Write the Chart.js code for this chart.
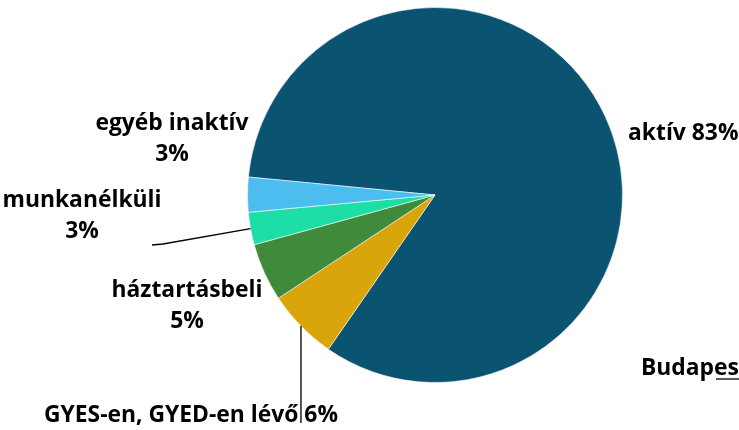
<!DOCTYPE html>
<html>
<head>
<meta charset="utf-8">
<script src="https://cdn.jsdelivr.net/npm/chart.js@4"></script>
<style>
  html, body { margin: 0; padding: 0; background: #fff; overflow: hidden; }
  #wrap { width: 739px; height: 430px; position: relative; }
</style>
</head>
<body>
<div id="wrap"><canvas id="pie"></canvas></div>
<script>
// adatok
const kategoriak = ['aktív', 'GYES-en, GYED-en lévő', 'háztartásbeli', 'munkanélküli', 'egyéb inaktív'];
const ertekek = [83.1, 6.1, 5.0, 2.8, 3.0];
const szinek = ['#0a5472', '#d9a50b', '#3f8a3b', '#1ddfa6', '#4dbdf0'];
const cimke = 'Budapest';

const CSALAD = '"Open Sans", Lato, sans-serif';

// feliratok a szeletekhez (szöveg sorok, hely)
const feliratok = [
  { sorok: [kategoriak[0] + ' ' + Math.round(ertekek[0]) + '%'], x: 628, y: 133, align: 'left' },
  { sorok: [kategoriak[1] + ' ' + Math.round(ertekek[1]) + '%'], x: 44, y: 415, align: 'left', vonal: [[301, 423]] },
  { sorok: [kategoriak[2], Math.round(ertekek[2]) + '%'], x: 187, y: 290, align: 'center' },
  { sorok: [kategoriak[3], Math.round(ertekek[3]) + '%'], x: 82, y: 200, align: 'center', vonal: [[163, 244], [152, 245]] },
  { sorok: [kategoriak[4], Math.round(ertekek[4]) + '%'], x: 172, y: 123, align: 'center' }
];

const feliratPlugin = {
  id: 'feliratok',
  afterDatasetsDraw(chart) {
    const ctx = chart.ctx;
    const meta = chart.getDatasetMeta(0);
    ctx.save();
    // betűméret a leghosszabb felirat szélességéhez igazítva (~294px)
    ctx.font = 'bold 20px ' + CSALAD;
    const w = ctx.measureText(feliratok[1].sorok[0]).width;
    const meret = 20 * 294 / w;
    // vezető vonalak a szelet közepétől
    ctx.strokeStyle = '#000';
    ctx.lineWidth = 1.3;
    feliratok.forEach((f, i) => {
      if (!f.vonal) return;
      const arc = meta.data[i];
      const mid = (arc.startAngle + arc.endAngle) / 2;
      ctx.beginPath();
      ctx.moveTo(arc.x + Math.cos(mid) * arc.outerRadius, arc.y + Math.sin(mid) * arc.outerRadius);
      f.vonal.forEach(p => ctx.lineTo(p[0], p[1]));
      ctx.stroke();
    });
    ctx.fillStyle = '#000';
    ctx.font = 'bold ' + meret.toFixed(2) + 'px ' + CSALAD;
    ctx.textBaseline = 'middle';
    feliratok.forEach(f => {
      ctx.textAlign = f.align;
      f.sorok.forEach((s, j) => ctx.fillText(s, f.x, f.y + j * 31));
    });
    // Budapest felirat (jobb szélen levágva)
    ctx.textAlign = 'left';
    ctx.fillText(cimke, 641, 368);
    ctx.beginPath();
    ctx.moveTo(716, 379);
    ctx.lineTo(739, 379);
    ctx.stroke();
    ctx.restore();
  }
};

new Chart(document.getElementById('pie'), {
  type: 'pie',
  data: {
    labels: kategoriak,
    datasets: [{
      data: ertekek,
      backgroundColor: szinek,
      borderColor: 'rgba(255,255,255,0.55)',
      borderWidth: 1
    }]
  },
  options: {
    responsive: true,
    maintainAspectRatio: false,
    animation: false,
    rotation: 275.5,
    layout: { padding: { top: 7, bottom: 47, left: 247, right: 116 } },
    plugins: {
      legend: { display: false },
      title: { display: false },
      tooltip: { enabled: false }
    }
  },
  plugins: [feliratPlugin]
});
</script>
</body>
</html>
